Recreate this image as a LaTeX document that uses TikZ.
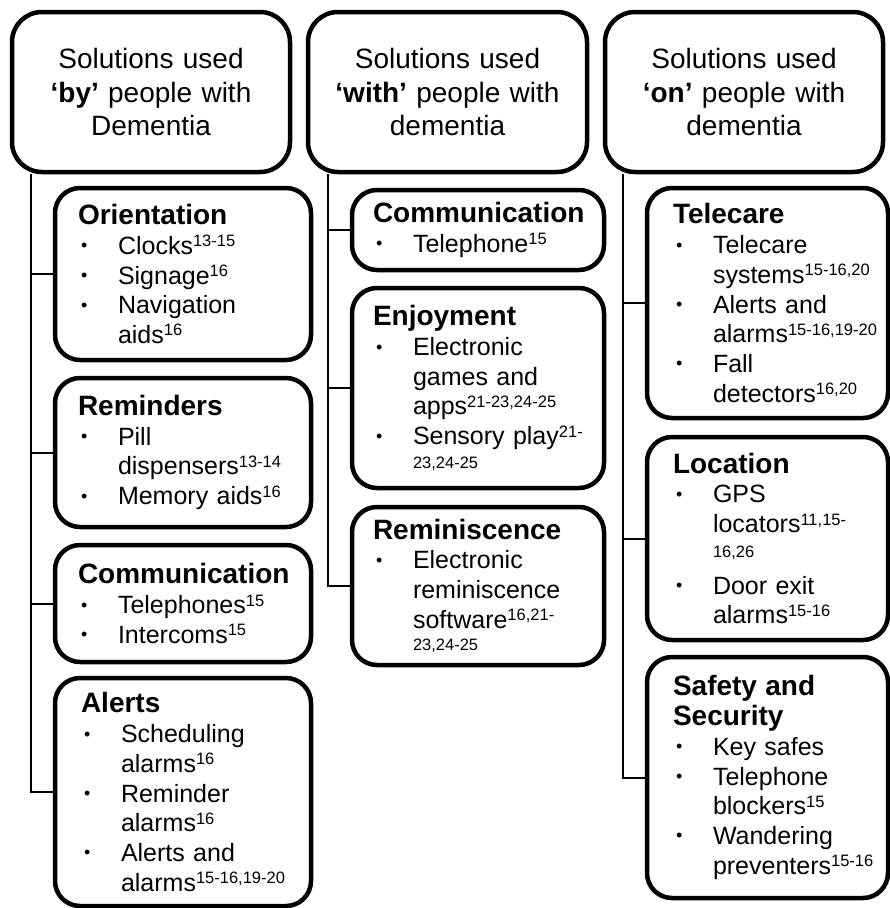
\documentclass[tikz,border=0pt]{standalone}
\usepackage{fontspec}
\setmainfont{Liberation Sans}
\usetikzlibrary{positioning}
\setlength{\parindent}{0pt}
\newcommand{\sups}[1]{\raisebox{7.5pt}{\fontsize{16.5}{18}\selectfont #1}}
\newcommand{\tailref}[1]{{\fontsize{16.5}{18}\selectfont #1}}
\newcommand{\ttl}[1]{{\fontsize{28}{29.7}\selectfont\bfseries #1}}
\newcommand{\itm}[1]{\par\hangindent=40pt\hangafter=1\makebox[40pt][l]{\hspace{3pt}\raisebox{2.5pt}{\fontsize{18}{18}\selectfont\textbullet}}#1}

\begin{document}
\begin{tikzpicture}[x=1pt, y=-1pt,
	head/.style={draw, line width=4.5pt, rounded corners=30pt, minimum width=278pt, minimum height=160pt, text width=258pt, align=center, font=\fontsize{28}{33.5}\selectfont},
	sub/.style={draw, line width=4.5pt, rounded corners=25pt, align=left, font=\fontsize{25}{29.7}\selectfont},
	colby/.style={sub, minimum width=256pt, inner xsep=23pt, text width=210pt},
	colwith/.style={sub, minimum width=252pt, inner xsep=21pt, text width=210pt},
	colon/.style={sub, minimum width=241pt, inner xsep=26pt, text width=189pt},
	tree/.style={line width=2pt}]
	\useasboundingbox (0,0) rectangle (890,908);

	\node[head] (byhead) at (151,92) {Solutions used\\ \textbf{‘by’} people with\\ Dementia};
	\node[head, minimum width=279pt] (withhead) at (447.5,92) {Solutions used\\ \textbf{‘with’} people with\\ dementia};
	\node[head] (onhead) at (744,92) {Solutions used\\ \textbf{‘on’} people with\\ dementia};

	% by
	\node[colby, minimum height=172pt] (orient) at (183,274) {\ttl{Orientation}\itm{Clocks\sups{13-15}}\itm{Signage\sups{16}}\itm{Navigation\newline aids\sups{16}}\par};
	\node[colby, minimum height=149pt] (remind) at (183,452.5) {\ttl{Reminders}\itm{Pill\newline dispensers\sups{13-14}}\itm{Memory~aids\sups{16}}\par};
	\node[colby, minimum height=117pt] (commby) at (183,603.5) {\ttl{Communication}\itm{Telephones\sups{15}}\itm{Intercoms\sups{15}}\par};
	\node[colby, minimum height=228pt, inner xsep=26pt, text width=204pt] (alerts) at (183,792) {\ttl{Alerts}\itm{Scheduling\newline alarms\sups{16}}\itm{Reminder\newline alarms\sups{16}}\itm{Alerts~and\newline alarms\sups{15-16,19-20}}\par};

	% with
	\node[colwith, minimum height=80pt] (commwith) at (478,230) {\ttl{Communication}\itm{Telephone\sups{15}}\par};
	\node[colwith, minimum height=200pt] (enjoy) at (478,388) {\ttl{Enjoyment}\itm{Electronic\newline games~and\newline apps\sups{21-23,24-25}}\itm{Sensory~play\sups{21-}\vadjust{\vskip-6pt}\newline\tailref{23,24-25}}\par};
	\node[colwith, minimum height=158pt] (remin) at (478,586) {\ttl{Reminiscence}\itm{Electronic\newline reminiscence\newline software\sups{16,21-}\vadjust{\vskip-7pt}\newline\tailref{23,24-25}}\par};

	% on
	\node[colon, minimum height=230pt] (telecare) at (767.5,303) {\ttl{Telecare}\itm{Telecare\newline systems\sups{15-16,20}}\itm{Alerts~and\newline alarms\sups{15-16,19-20}}\itm{Fall\newline detectors\sups{16,20}}\par};
	\node[colon, minimum height=203pt] (location) at (767.5,538.5) {\ttl{Location}\itm{GPS\newline locators\sups{11,15-}\vadjust{\vskip-5pt}\newline\tailref{16,26}\vadjust{\vskip7pt}}\itm{Door~exit\newline alarms\sups{15-16}}\par};
	\node[colon, minimum height=241pt] (safety) at (767.5,777.5) {\ttl{Safety~and\newline Security}\itm{Key~safes}\itm{Telephone\newline blockers\sups{15}}\itm{Wandering\newline preventers\sups{15-16}}\par};

	\coordinate (byroot) at ([xshift=21pt]byhead.south west);
	\coordinate (withroot) at ([xshift=22pt]withhead.south west);
	\coordinate (onroot) at ([xshift=20pt]onhead.south west);
	\draw[tree] (byroot) |- (orient.west);
	\draw[tree] (byroot) |- (remind.west);
	\draw[tree] (byroot) |- (commby.west);
	\draw[tree] (byroot) |- (alerts.west);
	\draw[tree] (withroot) |- (commwith.west);
	\draw[tree] (withroot) |- (enjoy.west);
	\draw[tree] (withroot) |- (remin.west);
	\draw[tree] (onroot) |- (telecare.west);
	\draw[tree] (onroot) |- (location.west);
	\draw[tree] (onroot) |- (safety.west);
\end{tikzpicture}
\end{document}
